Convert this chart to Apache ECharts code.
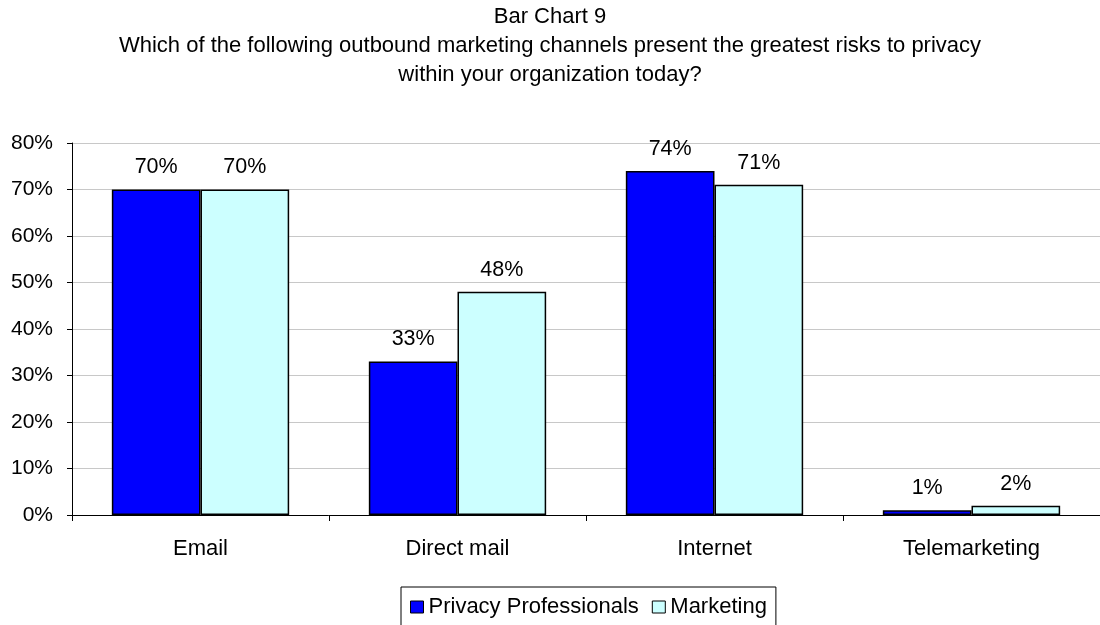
<!DOCTYPE html>
<html>
<head>
<meta charset="utf-8">
<script src="https://cdn.jsdelivr.net/npm/echarts@6/dist/echarts.min.js"></script>
<style>
  html, body { margin: 0; padding: 0; background: #fff; }
  #chart { width: 1100px; height: 625px; }
</style>
</head>
<body>
<div id="chart"></div>
<script>
const titleLines = [
  'Bar Chart 9',
  'Which of the following outbound marketing channels present the greatest risks to privacy',
  'within your organization today?'
];
const categories = ['Email', 'Direct mail', 'Internet', 'Telemarketing'];
const privacyProfessionals = [70, 33, 74, 1];
const marketing = [70, 48, 71, 2];
const yTicks = [0, 10, 20, 30, 40, 50, 60, 70, 80];

const font = 'Liberation Sans, Arial, sans-serif';
const chart = echarts.init(document.getElementById('chart'), null, { renderer: 'canvas' });

const barLabel = {
  show: true,
  position: 'top',
  distance: 11,
  formatter: p => p.value + '%',
  color: '#000',
  fontFamily: font,
  fontSize: 21.5
};

chart.setOption({
  animation: false,
  backgroundColor: '#fff',
  title: {
    text: titleLines.join('\n'),
    left: 'center',
    top: -3,
    textStyle: {
      fontFamily: font,
      fontSize: 22,
      fontWeight: 'normal',
      color: '#000',
      lineHeight: 29
    }
  },
  legend: {
    top: 587,
    left: 401,
    itemWidth: 13,
    itemHeight: 12,
    itemGap: 13,
    padding: [9, 9, 20, 9],
    borderColor: '#000',
    borderWidth: 1,
    icon: 'rect',
    textStyle: { fontFamily: font, fontSize: 22, color: '#000' },
    data: [
      { name: 'Privacy Professionals', itemStyle: { color: '#0000ff', borderColor: '#000', borderWidth: 1 } },
      { name: 'Marketing', itemStyle: { color: '#ccffff', borderColor: '#000', borderWidth: 1 } }
    ]
  },
  grid: {
    left: 72,
    top: 143,
    width: 1035,
    height: 372,
    containLabel: false
  },
  xAxis: {
    type: 'category',
    data: categories,
    axisLine: { lineStyle: { color: '#000', width: 1 } },
    axisTick: { show: true, length: 6, lineStyle: { color: '#000' }, alignWithLabel: false },
    axisLabel: { fontFamily: font, fontSize: 22, color: '#000', margin: 23 }
  },
  yAxis: {
    type: 'value',
    min: yTicks[0],
    max: yTicks[yTicks.length - 1],
    interval: 10,
    axisLine: { show: true, lineStyle: { color: '#000', width: 1 } },
    axisTick: { show: true, inside: false, length: 5, lineStyle: { color: '#000' } },
    axisLabel: { fontFamily: font, fontSize: 21, color: '#000', margin: 19, formatter: v => v + '%' },
    splitLine: { show: true, lineStyle: { color: '#c8c8c8', width: 1 } }
  },
  series: [
    {
      name: 'Privacy Professionals',
      type: 'bar',
      data: privacyProfessionals,
      barGap: '0%',
      barCategoryGap: '31%',
      itemStyle: { color: '#0000ff', borderColor: '#000', borderWidth: 1.5 },
      label: barLabel
    },
    {
      name: 'Marketing',
      type: 'bar',
      data: marketing,
      barGap: '0%',
      barCategoryGap: '31%',
      itemStyle: { color: '#ccffff', borderColor: '#000', borderWidth: 1.5 },
      label: barLabel
    }
  ]
});
</script>
</body>
</html>
